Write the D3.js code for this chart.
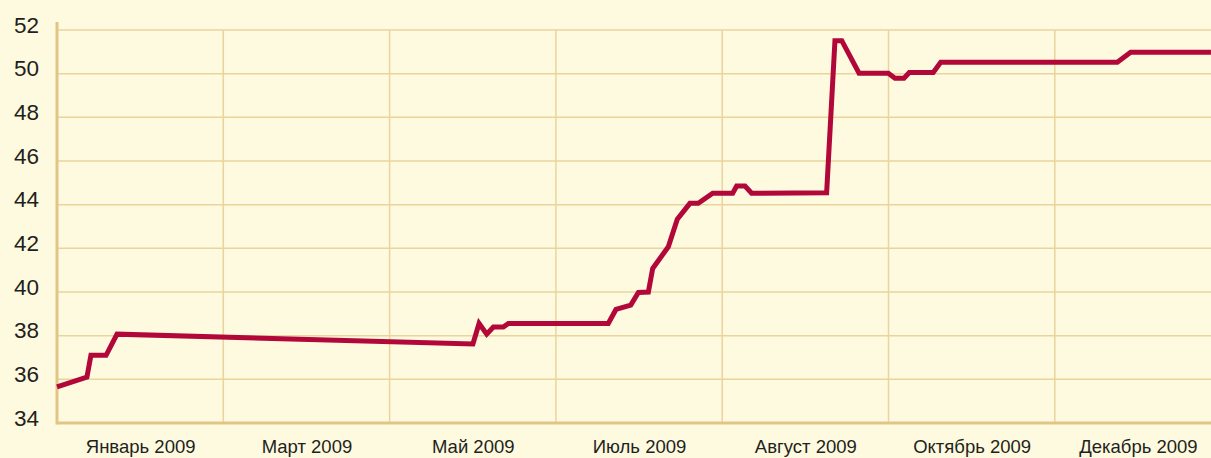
<!DOCTYPE html>
<html><head><meta charset="UTF-8">
<style>
body { margin: 0; background: #fefadf; }
.grid line { stroke: #ead49c; stroke-width: 1.5; }
.line { fill: none; stroke: #b10739; stroke-width: 5; stroke-linejoin: miter; }
.tick text { font-family: "Liberation Sans", Arial, sans-serif; fill: #231f20; }
</style>
<script src="https://cdn.jsdelivr.net/npm/d3@7"></script>
</head><body>
<div id="chart"></div>
<script>
// month labels, each one sits in the middle of a band
var months = ["Январь 2009", "Март 2009", "Май 2009", "Июль 2009", "Август 2009", "Октябрь 2009", "Декабрь 2009"];
var yTicks = [34, 36, 38, 40, 42, 44, 46, 48, 50, 52];

// position along the x axis in band units (0 = left edge, 1 = one band)
var pos = [0, 0.18, 0.204, 0.295, 0.361, 2.501, 2.538, 2.584, 2.624, 2.684, 2.714,
  3.315, 3.361, 3.45, 3.496, 3.556, 3.582, 3.676, 3.73, 3.806, 3.856, 3.943,
  4.063, 4.087, 4.137, 4.177, 4.628, 4.678, 4.719, 4.823, 4.999, 5.039, 5.093,
  5.125, 5.269, 5.314, 6.376, 6.456, 6.939];
var vals = [35.65, 36.1, 37.1, 37.1, 38.07, 37.62, 38.56, 38.07, 38.4, 38.4, 38.56,
  38.56, 39.2, 39.4, 39.98, 40.0, 41.08, 42.07, 43.33, 44.06, 44.06, 44.52,
  44.52, 44.85, 44.85, 44.52, 44.55, 51.51, 51.51, 50.02, 50.02, 49.79, 49.79,
  50.05, 50.05, 50.52, 50.52, 50.98, 50.98];

var W = 1211, H = 458;
var margin = {top: 30, left: 57, bottom: 35};
var bandW = 166.3;

var x = d3.scaleLinear().domain([0, months.length]).range([margin.left, margin.left + bandW * months.length]);
var y = d3.scaleLinear().domain([34, 52]).range([H - margin.bottom, margin.top]);

var svg = d3.select("#chart").append("svg").attr("width", W).attr("height", H);

svg.append("rect").attr("width", W).attr("height", H).attr("fill", "#fefadf");

// horizontal grid
svg.append("g").attr("class", "grid")
  .selectAll("line").data(yTicks.slice(1)).enter().append("line")
  .attr("x1", x(0)).attr("x2", W)
  .attr("y1", function(d) { return y(d); }).attr("y2", function(d) { return y(d); });

// vertical grid between bands
svg.append("g").attr("class", "grid")
  .selectAll("line").data(d3.range(1, months.length + 1)).enter().append("line")
  .attr("x1", function(d) { return x(d); }).attr("x2", function(d) { return x(d); })
  .attr("y1", y(52)).attr("y2", y(34));

// y axis labels
var yAxis = svg.append("g")
  .attr("transform", "translate(" + (x(0) - 18) + ",-5)")
  .call(d3.axisLeft(y).tickValues(yTicks).tickSize(0).tickPadding(0));
yAxis.select(".domain").remove();
yAxis.selectAll("text").style("font-size", "22.5px");

// x axis labels in the band centers
var xAxis = svg.append("g")
  .attr("transform", "translate(0," + (y(34) + 17) + ")")
  .call(d3.axisBottom(x).tickValues(d3.range(months.length).map(function(i) { return i + 0.5; }))
    .tickFormat(function(d, i) { return months[i]; }).tickSize(0).tickPadding(0));
xAxis.select(".domain").remove();
xAxis.selectAll("text").style("font-size", "18.5px");

// axis lines
svg.append("line").attr("x1", x(0)).attr("x2", W).attr("y1", y(34)).attr("y2", y(34))
  .attr("stroke", "#e2c586").attr("stroke-width", 3);
svg.append("line").attr("x1", x(0)).attr("x2", x(0)).attr("y1", y(52) - 8).attr("y2", y(34) + 1.5)
  .attr("stroke", "#e2c586").attr("stroke-width", 3);

var data = pos.map(function(p, i) { return {x: p, y: vals[i]}; });
var line = d3.line()
  .x(function(d) { return x(d.x); })
  .y(function(d) { return y(d.y); });

svg.append("path").datum(data).attr("class", "line").attr("d", line);
</script>
</body></html>
